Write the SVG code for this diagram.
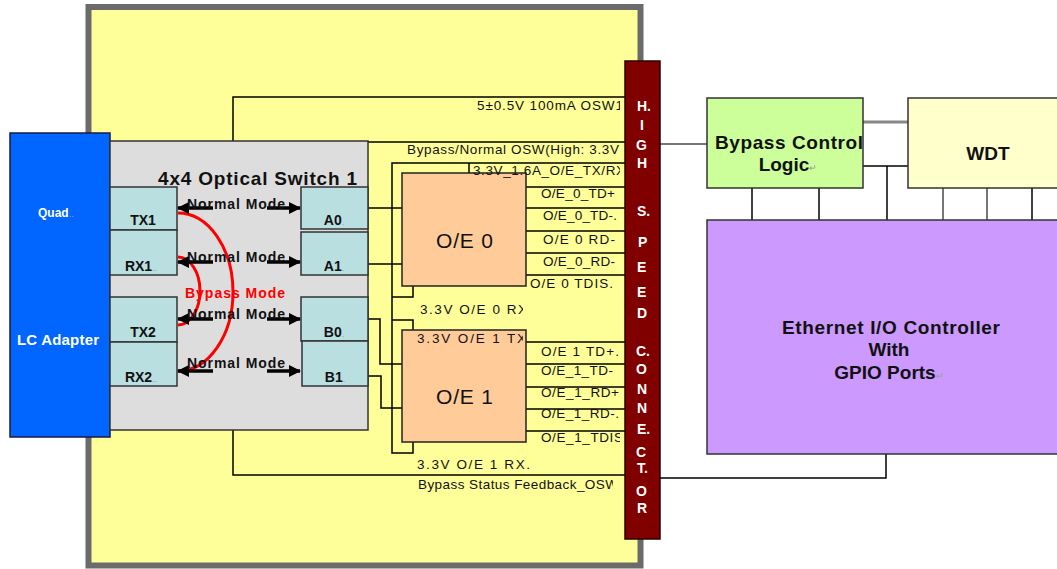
<svg xmlns="http://www.w3.org/2000/svg" width="1057" height="569" viewBox="0 0 1057 569">
<style>
text{font-family:"Liberation Sans",Arial,sans-serif}
.ln{stroke:#000;stroke-width:1.5;fill:none}
.gl{stroke:#777;stroke-width:2;fill:none}
.sig{font-size:13.5px;fill:#111}
.port{fill:#BADFE0;stroke:#333;stroke-width:1.5}
.pl{font-size:14px;font-weight:bold;fill:#111;text-anchor:middle}
.nm{font-size:14px;font-weight:bold;fill:#111}
.arr{stroke:#000;stroke-width:3.5;fill:none;marker-end:url(#ah)}
.cn{font-size:14px;font-weight:bold;fill:#fff}
.big{font-size:19px;font-weight:bold;fill:#111;text-anchor:middle}
.dot{fill:#999;font-size:9px;font-weight:normal}
</style>
<defs>
<marker id="ah" viewBox="0 0 12 12" refX="11" refY="6" markerWidth="12" markerHeight="12" markerUnits="userSpaceOnUse" orient="auto">
<path d="M0,0 L12,6 L0,12 z" fill="#000"/>
</marker>
<clipPath id="clipR"><rect x="0" y="0" width="620" height="569"/></clipPath>
<clipPath id="clipOE"><rect x="0" y="0" width="523" height="569"/></clipPath>
<clipPath id="clipBS"><rect x="0" y="0" width="613" height="569"/></clipPath>
</defs>

<g id="board">
<rect x="88.5" y="7" width="552" height="558.5" fill="#FFFF99" stroke="#6B6B6B" stroke-width="6"/>
</g>

<g id="connectors">
<polyline class="ln" points="233,141 233,97 625,97"/>
<line class="ln" x1="368" y1="142" x2="625" y2="142"/>
<polyline class="ln" points="625,163 392,163 392,453 413,453 413,442"/>
<line class="ln" x1="469" y1="163" x2="469" y2="175"/>
<polyline class="ln" points="392,297 413,297 413,286"/>
<polyline class="ln" points="392,320 413,320 413,330"/>
<line class="ln" x1="368" y1="208" x2="402" y2="208"/>
<line class="ln" x1="368" y1="264" x2="402" y2="264"/>
<polyline class="ln" points="368,319 380,319 380,364 402,364"/>
<polyline class="ln" points="368,376 381,376 381,408 402,408"/>
<line class="ln" x1="526" y1="187" x2="625" y2="187"/>
<line class="ln" x1="526" y1="208" x2="625" y2="208"/>
<line class="ln" x1="526" y1="231" x2="625" y2="231"/>
<line class="ln" x1="526" y1="253" x2="625" y2="253"/>
<line class="ln" x1="526" y1="275" x2="625" y2="275"/>
<line class="ln" x1="526" y1="342" x2="625" y2="342"/>
<line class="ln" x1="526" y1="364" x2="625" y2="364"/>
<line class="ln" x1="526" y1="387" x2="625" y2="387"/>
<line class="ln" x1="526" y1="409" x2="625" y2="409"/>
<line class="ln" x1="526" y1="431" x2="625" y2="431"/>
<polyline class="ln" points="233,430 233,475 625,475"/>
<line class="gl" x1="660" y1="144" x2="707" y2="144"/>
<line stroke="#888" stroke-width="3" x1="863" y1="122" x2="908" y2="122"/>
<line class="ln" x1="863" y1="166" x2="908" y2="166"/>
<line class="ln" x1="887" y1="166" x2="887" y2="220"/>
<line class="ln" x1="752" y1="188" x2="752" y2="220"/>
<line class="ln" x1="819" y1="188" x2="819" y2="220"/>
<line class="gl" x1="943" y1="188" x2="943" y2="220"/>
<line class="gl" x1="987" y1="188" x2="987" y2="220"/>
<line class="ln" x1="1032" y1="188" x2="1032" y2="220"/>
<polyline class="ln" points="886,454 886,478 660,478"/>
</g>

<g id="lc-adapter">
<rect x="10" y="133" width="100" height="304" fill="#0066FF" stroke="#1A1A4A" stroke-width="1.5"/>
<text x="38" y="217" font-size="12" font-weight="bold" fill="#fff">Quad<tspan class="dot">..</tspan></text>
<text x="17" y="345" font-size="15" font-weight="bold" fill="#fff" textLength="82">LC Adapter</text>
</g>

<g id="optical-switch">
<rect x="110" y="141" width="258" height="289" fill="#DDDDDD" stroke="#333" stroke-width="1.5"/>
<text x="158" y="185" font-size="19" font-weight="bold" fill="#111" textLength="199">4x4 Optical Switch 1</text>
<rect class="port" x="110" y="187" width="67" height="43"/>
<rect class="port" x="110" y="230" width="67" height="45"/>
<rect class="port" x="110" y="297" width="67" height="45"/>
<rect class="port" x="110" y="342" width="67" height="44"/>
<rect class="port" x="301" y="187" width="67" height="42"/>
<rect class="port" x="301" y="232" width="67" height="43"/>
<rect class="port" x="301" y="297" width="67" height="44"/>
<rect class="port" x="302" y="341" width="66" height="45"/>
<text class="pl" x="143" y="225">TX1</text>
<text class="pl" x="141" y="271">RX1<tspan class="dot">..</tspan></text>
<text class="pl" x="143" y="337">TX2</text>
<text class="pl" x="141" y="382">RX2<tspan class="dot">..</tspan></text>
<text class="pl" x="334" y="225" font-size="13">A0<tspan class="dot">.</tspan></text>
<text class="pl" x="334" y="271" font-size="13">A1<tspan class="dot">.</tspan></text>
<text class="pl" x="334" y="337" font-size="13">B0<tspan class="dot">.</tspan></text>
<text class="pl" x="335" y="382" font-size="13">B1<tspan class="dot">.</tspan></text>
<path d="M178,213 A55,79 0 0 1 178,371" fill="none" stroke="#FF0000" stroke-width="3"/>
<path d="M178,257 A22,34 0 0 1 178,325" fill="none" stroke="#FF0000" stroke-width="3"/>
<line class="arr" x1="213" y1="208" x2="178" y2="208"/>
<line class="arr" x1="267" y1="208" x2="300" y2="208"/>
<line class="arr" x1="213" y1="262" x2="178" y2="262"/>
<line class="arr" x1="267" y1="262" x2="300" y2="262"/>
<line class="arr" x1="213" y1="319" x2="178" y2="319"/>
<line class="arr" x1="267" y1="319" x2="300" y2="319"/>
<line class="arr" x1="213" y1="371" x2="178" y2="371"/>
<line class="arr" x1="267" y1="371" x2="300" y2="371"/>
<text class="nm" x="187" y="209" textLength="98">Normal Mode</text>
<text class="nm" x="187" y="262" textLength="98">Normal Mode</text>
<text x="185" y="298" font-size="14" font-weight="bold" fill="#FF0000" textLength="100">Bypass Mode</text>
<text class="nm" x="187" y="319" textLength="98">Normal Mode</text>
<text class="nm" x="187" y="368" textLength="98">Normal Mode</text>
</g>

<g id="oe0">
<rect x="402" y="173" width="124" height="113" fill="#FFCC99" stroke="#222" stroke-width="1.5"/>
<text x="436" y="248" font-size="21" fill="#111" textLength="57">O/E 0</text>
</g>

<g id="oe1">
<rect x="402" y="330" width="124" height="112" fill="#FFCC99" stroke="#222" stroke-width="1.5"/>
<text x="436" y="404" font-size="21" fill="#111" textLength="57">O/E 1</text>
</g>

<g id="signal-labels">
<g clip-path="url(#clipR)">
<text class="sig" x="477" y="110" textLength="146">5±0.5V 100mA OSW1</text>
<text class="sig" x="407" y="154" textLength="212">Bypass/Normal OSW(High: 3.3V</text>
<text class="sig" x="473" y="175" textLength="152">3.3V_1.6A_O/E_TX/RX</text>
<text class="sig" x="541" y="198" textLength="74">O/E_0_TD+</text>
<text class="sig" x="543" y="220" textLength="74">O/E_0_TD-.</text>
<text class="sig" x="543" y="244" textLength="72">O/E 0 RD-</text>
<text class="sig" x="543" y="266" textLength="72">O/E_0_RD-</text>
<text class="sig" x="530" y="288" textLength="83">O/E 0 TDIS.</text>
<text class="sig" x="541" y="356" textLength="78">O/E 1 TD+.</text>
<text class="sig" x="541" y="375" textLength="72">O/E_1_TD-</text>
<text class="sig" x="541" y="397" textLength="78">O/E_1_RD+</text>
<text class="sig" x="541" y="418" textLength="78">O/E_1_RD-.</text>
<text class="sig" x="541" y="442" textLength="82">O/E_1_TDIS</text>
<text class="sig" x="417" y="469" textLength="113">3.3V O/E 1 RX.</text>
</g>
<g clip-path="url(#clipOE)">
<text class="sig" x="420" y="314" textLength="107">3.3V O/E 0 RX</text>
<text class="sig" x="417" y="343" textLength="109">3.3V O/E 1 TX</text>
</g>
<g clip-path="url(#clipBS)">
<text class="sig" x="418" y="489" textLength="200">Bypass Status Feedback_OSW</text>
</g>
</g>

<g id="high-speed-connector">
<rect x="625" y="61" width="35" height="478" fill="#800000" stroke="#2A0000" stroke-width="1.5"/>
<text class="cn" x="637" y="111">H.</text>
<text class="cn" x="640" y="130">I</text>
<text class="cn" x="636" y="150">G</text>
<text class="cn" x="637" y="168">H</text>
<text class="cn" x="637" y="216">S.</text>
<text class="cn" x="638" y="247">P</text>
<text class="cn" x="637" y="272">E</text>
<text class="cn" x="637" y="297">E</text>
<text class="cn" x="637" y="318">D</text>
<text class="cn" x="636" y="356">C.</text>
<text class="cn" x="636" y="374">O</text>
<text class="cn" x="637" y="394">N</text>
<text class="cn" x="637" y="413">N</text>
<text class="cn" x="637" y="434">E.</text>
<text class="cn" x="636" y="457">C</text>
<text class="cn" x="637" y="473">T.</text>
<text class="cn" x="636" y="496">O</text>
<text class="cn" x="637" y="513">R</text>
</g>

<g id="bypass-control">
<rect x="707" y="98" width="156" height="90" fill="#CCFF99" stroke="#333" stroke-width="1.5"/>
<text class="big" x="789" y="149" textLength="148">Bypass Control</text>
<text class="big" x="788" y="171">Logic<tspan class="dot" font-size="13">↵</tspan></text>
</g>

<g id="wdt">
<rect x="908" y="98" width="155" height="90" fill="#FFFFCC" stroke="#333" stroke-width="1.5"/>
<text class="big" x="988" y="160">WDT</text>
</g>

<g id="ethernet">
<rect x="707" y="220" width="356" height="234" fill="#CC99FF" stroke="#333" stroke-width="1.5"/>
<text class="big" x="891" y="334" textLength="218">Ethernet I/O Controller</text>
<text class="big" x="889" y="356">With</text>
<text class="big" x="889" y="379">GPIO Ports<tspan class="dot" font-size="13">↵</tspan></text>
</g>
</svg>
